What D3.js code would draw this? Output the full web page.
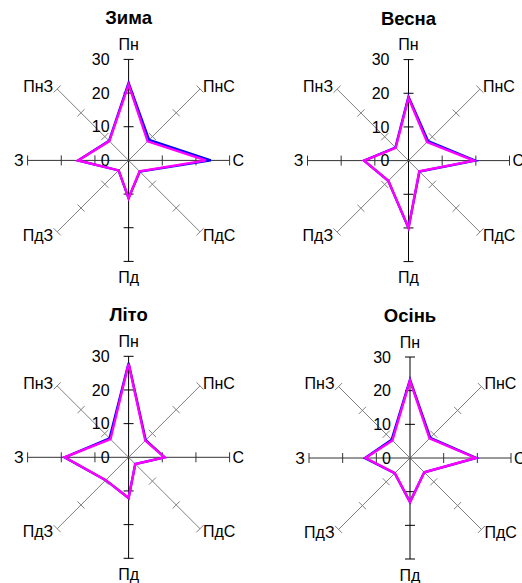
<!DOCTYPE html>
<html>
<head>
<meta charset="utf-8">
<script src="https://cdn.jsdelivr.net/npm/d3@7"></script>
<style>
  body { margin: 0; background: #fff; }
  svg text { font-family: "Liberation Sans", Arial, sans-serif; fill: #000; }
</style>
</head>
<body>
<div id="chart"></div>
<script>
// напрямки вітру
var directions = ["Пн", "ПнС", "С", "ПдС", "Пд", "ПдЗ", "З", "ПнЗ"];
var seasons = ["Зима", "Весна", "Літо", "Осінь"];
var tickValues = [0, 10, 20, 30];

// синя серія
var blueValues = [
  [23.0, 8.6, 24.4, 4.7, 11.2, 4.2, 15.0, 8.2],
  [19.0, 8.2, 19.8, 4.6, 20.0, 8.5, 13.2, 5.5],
  [28.0, 7.2, 10.7, 2.8, 12.1, 9.6, 19.0, 8.0],
  [23.3, 8.5, 19.7, 6.0, 13.1, 6.4, 13.4, 7.7]
];
// рожева серія
var magentaValues = [
  [22.5, 8.0, 23.0, 4.6, 11.2, 4.2, 15.0, 8.1],
  [18.6, 7.8, 19.4, 4.5, 20.0, 8.5, 13.2, 5.4],
  [27.8, 7.0, 10.7, 2.8, 12.1, 9.6, 19.0, 7.6],
  [23.0, 8.2, 19.5, 6.0, 13.1, 6.4, 13.2, 7.4]
];

var width = 522, height = 583;
var R = 101;
var centers = [[128.6, 160.4], [408.5, 160.6], [128.6, 457.3], [410, 458]];

var svg = d3.select("#chart").append("svg")
  .attr("width", width)
  .attr("height", height);

var rScale = d3.scaleLinear().domain([0, 30]).range([0, R]);
var angle = d3.scalePoint().domain(directions).range([0, 2 * Math.PI * 7 / 8]);

function pt(dir, v) {
  var a = angle(dir);
  return [Math.sin(a) * rScale(v), -Math.cos(a) * rScale(v)];
}

seasons.forEach(function(season, i) {
  var c = centers[i];
  var g = svg.append("g").attr("transform", "translate(" + c[0] + "," + c[1] + ")");

  // title
  g.append("text")
    .attr("x", 0)
    .attr("y", -R - 35)
    .attr("text-anchor", "middle")
    .style("font-size", "18.5px")
    .style("font-weight", "bold")
    .text(season);

  // axes
  directions.forEach(function(dir, k) {
    var a = angle(dir);
    var diag = k % 2 == 1;
    var col = diag ? "#808080" : (k % 4 == 0 ? "#000" : "#333");
    var e = pt(dir, 30);
    g.append("line")
      .attr("x1", 0).attr("y1", 0)
      .attr("x2", e[0]).attr("y2", e[1])
      .attr("stroke", col)
      .attr("stroke-width", 1);
    tickValues.slice(1).forEach(function(t) {
      var p = pt(dir, t);
      var px = Math.cos(a) * 5, py = Math.sin(a) * 5;
      g.append("line")
        .attr("x1", p[0] - px).attr("y1", p[1] - py)
        .attr("x2", p[0] + px).attr("y2", p[1] + py)
        .attr("stroke", col)
        .attr("stroke-width", 1);
    });
  });

  // tick labels
  g.selectAll(".tick-label")
    .data(tickValues)
    .enter()
    .append("text")
      .attr("x", -19)
      .attr("y", function(d) { return -rScale(d); })
      .attr("dy", "0.36em")
      .attr("text-anchor", "end")
      .style("font-size", "16px")
      .text(function(d) { return d; });

  // series
  var line = d3.lineRadial()
    .angle(function(d, k) { return angle(directions[k]); })
    .radius(function(d) { return rScale(d); })
    .curve(d3.curveLinearClosed);

  [[blueValues[i], "#0000ff"], [magentaValues[i], "#ff00ff"]].forEach(function(s) {
    g.append("path")
      .attr("d", line(s[0]))
      .attr("fill", "none")
      .attr("stroke", s[1])
      .attr("stroke-width", 2.4)
      .attr("stroke-linejoin", "miter");
  });

  // direction labels
  directions.forEach(function(dir, k) {
    var e = pt(dir, 30);
    var a = angle(dir);
    var s = Math.sin(a), co = -Math.cos(a);
    var anchor = Math.abs(s) < 0.01 ? "middle" : (s > 0 ? "start" : "end");
    var x = e[0] + (Math.abs(s) < 0.01 ? 0 : (s > 0 ? 3 : -4));
    var y = e[1] + (Math.abs(co) < 0.01 ? 0 : (co > 0 ? 3 : -3));
    if (k == 0) y = -R - 15;
    if (k == 4) y = R + 16;
    g.append("text")
      .attr("x", x)
      .attr("y", y)
      .attr("dy", "0.36em")
      .attr("text-anchor", anchor)
      .style("font-size", "16px")
      .text(dir);
  });
});
</script>
</body>
</html>
